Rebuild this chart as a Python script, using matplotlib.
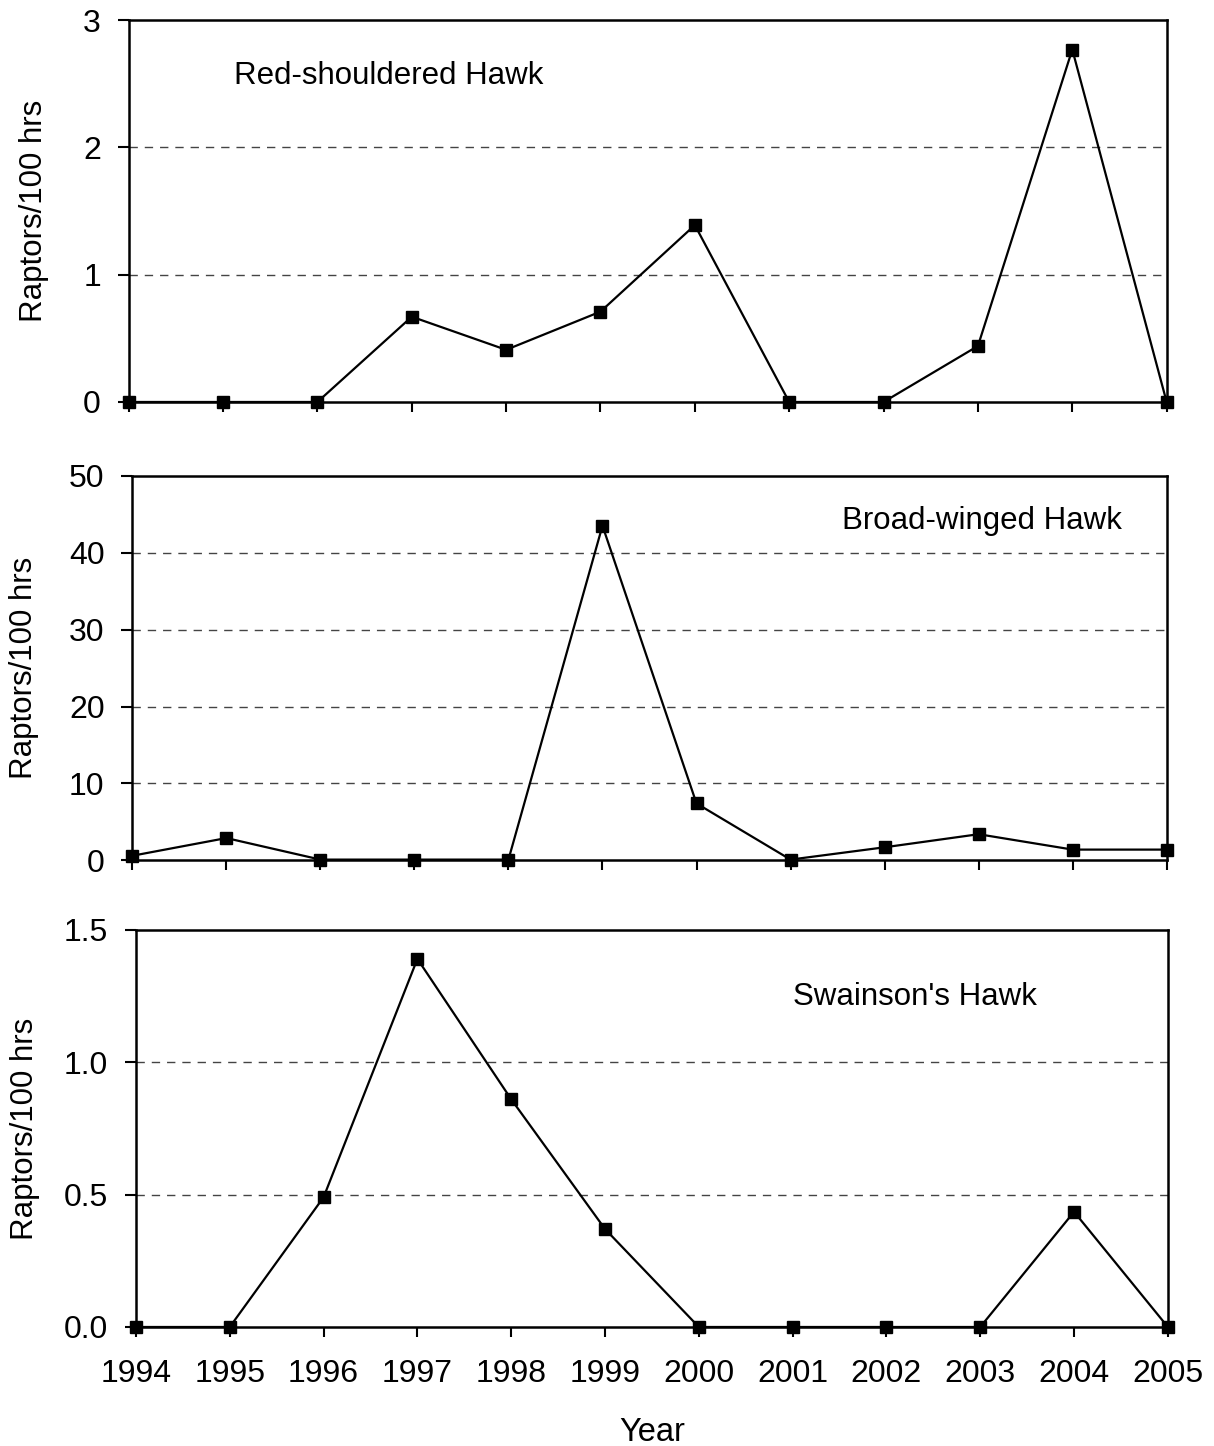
import matplotlib.pyplot as plt

plt.rcParams['font.family'] = ['Liberation Sans', 'DejaVu Sans']

years = [1994, 1995, 1996, 1997, 1998, 1999, 2000, 2001, 2002, 2003, 2004, 2005]
red_shouldered = [0, 0, 0, 0.67, 0.41, 0.71, 1.39, 0, 0, 0.44, 2.77, 0]
broad_winged = [0.6, 2.9, 0.1, 0.1, 0.1, 43.5, 7.4, 0.1, 1.7, 3.4, 1.4, 1.4]
swainsons = [0, 0, 0.49, 1.39, 0.86, 0.37, 0, 0, 0, 0, 0.435, 0]

year_labels = [str(y) for y in years]

fig = plt.figure(figsize=(12.14, 14.46), dpi=100)

# axes positions [left, bottom, width, height] in figure fraction
ax1 = fig.add_axes([0.106, 0.722, 0.855, 0.264])
ax2 = fig.add_axes([0.109, 0.405, 0.852, 0.266])
ax3 = fig.add_axes([0.112, 0.0823, 0.850, 0.2747])

panels = [
    (ax1, red_shouldered, 3, [0, 1, 2, 3], ['0', '1', '2', '3'], 'Red-shouldered Hawk', 1995.12, 2.56, -0.077),
    (ax2, broad_winged, 50, [0, 10, 20, 30, 40, 50], ['0', '10', '20', '30', '40', '50'], 'Broad-winged Hawk', 2001.55, 44.1, -0.090),
    (ax3, swainsons, 1.5, [0, 0.5, 1.0, 1.5], ['0.0', '0.5', '1.0', '1.5'], "Swainson's Hawk", 2001.0, 1.245, -0.093),
]

for ax, vals, ymax, yticks, ylabels, name, tx, ty, lx in panels:
    # dashed grid lines at inner ticks
    for t in yticks[1:-1]:
        ax.axhline(t, color='#444444', linestyle=(0, (6, 5)), linewidth=1.0, zorder=1)
    ax.plot(years, vals, color='black', linewidth=1.6, marker='s', markersize=9,
            markerfacecolor='black', markeredgecolor='black', clip_on=False, zorder=3)
    ax.set_xlim(1994, 2005)
    ax.set_ylim(0, ymax)
    ax.set_yticks(yticks)
    ax.set_yticklabels(ylabels)
    ax.set_xticks(years)
    for s in ax.spines.values():
        s.set_linewidth(1.8)
    ax.tick_params(axis='y', direction='out', length=8, width=1.5, labelsize=23, pad=12)
    ax.tick_params(axis='x', direction='out', length=7, width=1.5, labelsize=23, pad=16)
    ax.set_ylabel('Raptors/100 hrs', fontsize=22.5)
    ax.yaxis.set_label_coords(lx, 0.5)
    ax.text(tx, ty, name, fontsize=22.5, ha='left', va='center')

ax1.set_xticklabels([])
ax2.set_xticklabels([])
ax3.set_xticklabels(year_labels)
ax3.set_xlabel('Year', fontsize=23.5, labelpad=20)

fig.savefig('out.png', dpi=100)
